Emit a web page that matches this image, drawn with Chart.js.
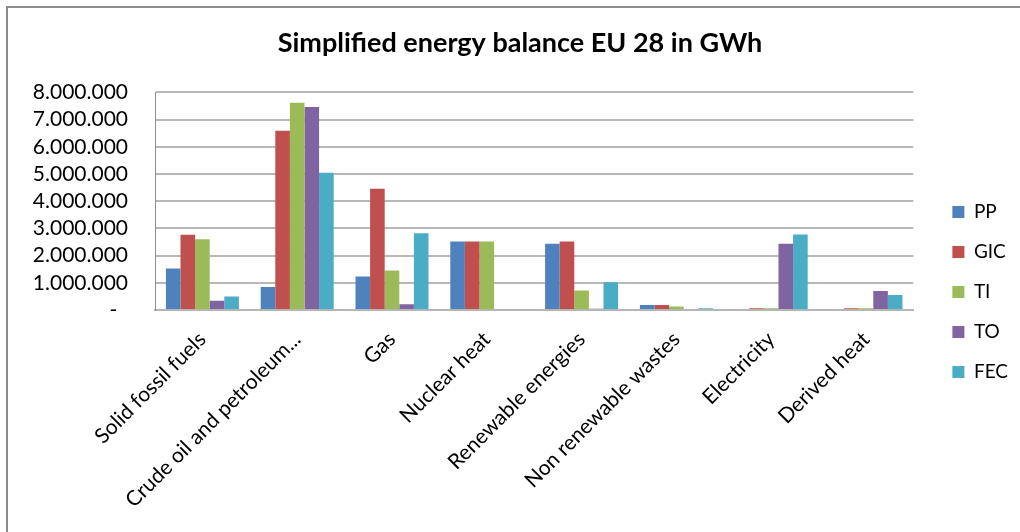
<!DOCTYPE html>
<html>
<head>
<meta charset="utf-8">
<script src="https://cdn.jsdelivr.net/npm/chart.js@4"></script>
<style>
  html, body { margin: 0; padding: 0; background: #fff; overflow: hidden; }
  #wrap { position: relative; width: 1020px; height: 532px; }
  #frame { position: absolute; left: 6px; top: 6px; right: 0; bottom: 0; border-top: 2px solid #8c8c8c; border-left: 2px solid #8c8c8c; pointer-events: none; }
  canvas { display: block; }
</style>
</head>
<body>
<div id="wrap">
  <canvas id="c" width="1020" height="532"></canvas>
  <div id="frame"></div>
</div>
<script>
const categories = ['Solid fossil fuels', 'Crude oil and petroleum...', 'Gas', 'Nuclear heat', 'Renewable energies', 'Non renewable wastes', 'Electricity', 'Derived heat'];
const seriesNames = ['PP', 'GIC', 'TI', 'TO', 'FEC'];
const PP  = [1530000,  850000, 1230000, 2520000, 2440000, 180000,       0,      0];
const GIC = [2770000, 6590000, 4460000, 2520000, 2520000, 180000,   60000,  60000];
const TI  = [2600000, 7620000, 1450000, 2520000,  720000, 130000,   60000,  60000];
const TO  = [ 340000, 7460000,  210000,       0,   50000,      0, 2440000, 700000];
const FEC = [ 500000, 5050000, 2820000,       0, 1020000,  60000, 2780000, 550000];
const yTickLabels = ['-  ', '1.000.000', '2.000.000', '3.000.000', '4.000.000', '5.000.000', '6.000.000', '7.000.000', '8.000.000'];
const colors = ['#4F81BD', '#C0504D', '#9BBB59', '#8064A2', '#4BACC6'];
const seriesValues = [PP, GIC, TI, TO, FEC];

const datasets = seriesNames.map((name, i) => ({
  label: name,
  data: seriesValues[i],
  backgroundColor: colors[i],
  borderWidth: 0,
  categoryPercentage: 0.77,
  barPercentage: 1.0
}));

new Chart(document.getElementById('c'), {
  type: 'bar',
  data: { labels: categories, datasets },
  options: {
    responsive: false,
    animation: false,
    layout: { padding: { left: 22, right: 2, top: 0, bottom: 0 } },
    plugins: {
      title: {
        display: true,
        text: 'Simplified energy balance EU 28 in GWh',
        color: '#000',
        font: { family: 'Lato', size: 27, weight: 'bold' },
        padding: { top: 27, bottom: 33 }
      },
      legend: {
        position: 'right',
        align: 'start',
        title: { display: true, text: ' ', font: { size: 10 }, padding: { top: 0, bottom: 169.5 } },
        labels: {
          boxWidth: 12,
          boxHeight: 12,
          padding: 21,
          color: '#000',
          font: { family: 'Lato', size: 19 }
        }
      },
      tooltip: { enabled: false }
    },
    scales: {
      x: {
        grid: { display: false, drawTicks: false },
        border: { display: true, color: '#b5b5b5', width: 2 },
        ticks: {
          autoSkip: false,
          minRotation: 45,
          maxRotation: 45,
          padding: 17,
          color: '#000',
          font: { family: 'Lato', size: 21 }
        },
        afterFit: (s) => { s.height = 222; }
      },
      y: {
        min: 0,
        max: 8000000,
        grid: { color: '#b8b8b8', lineWidth: 2, drawTicks: false },
        border: { display: true, color: '#8c8c8c', width: 1 },
        ticks: {
          stepSize: 1000000,
          autoSkip: false,
          padding: 27,
          color: '#000',
          font: { family: 'Lato', size: 21 },
          callback: (v, i) => yTickLabels[i]
        },
        afterFit: (s) => { s.width = 133; }
      },
      y2: {
        position: 'right',
        display: true,
        grid: { display: false, drawTicks: false },
        border: { display: false },
        ticks: { display: false },
        afterFit: (s) => { s.width = 18; }
      }
    }
  }
});
</script>
</body>
</html>
